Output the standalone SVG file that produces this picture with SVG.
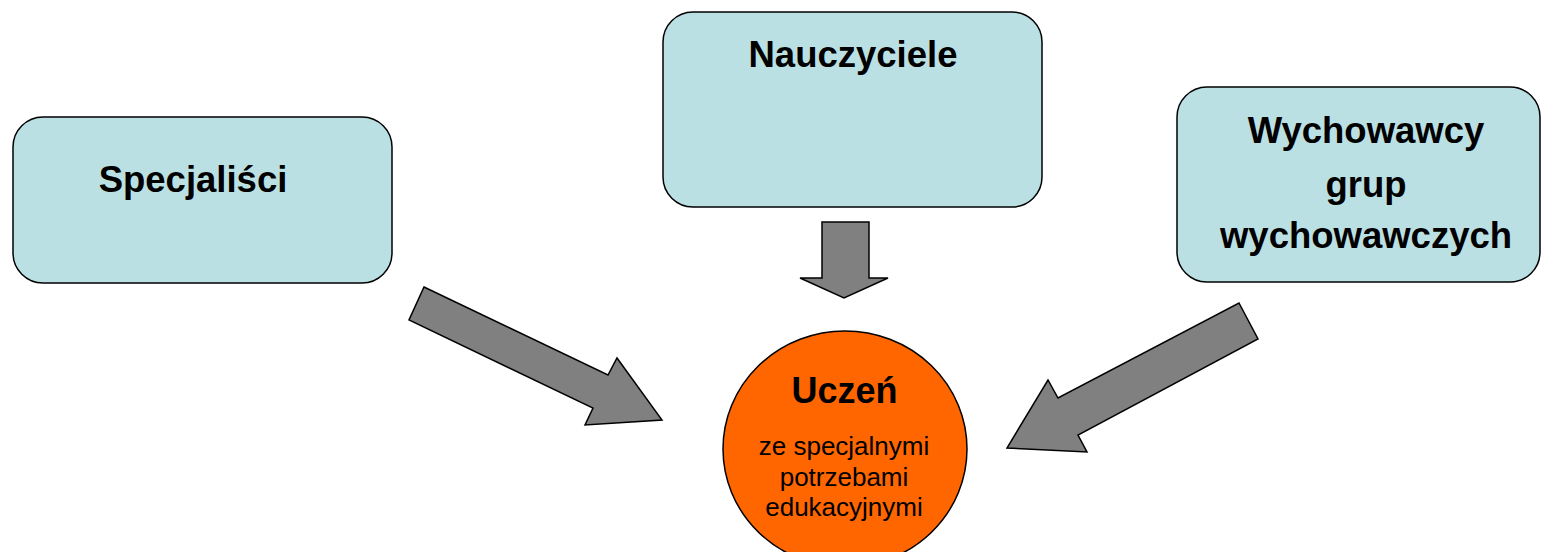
<svg xmlns="http://www.w3.org/2000/svg" width="1543" height="552" viewBox="0 0 1543 552">
<style>
.box{fill:#BBE0E3;stroke:#000;stroke-width:1.5}
.arrow{fill:#808080;stroke:#000;stroke-width:1.5;stroke-linejoin:miter}
.big{font-family:"Liberation Sans",Arial,sans-serif;font-weight:bold;font-size:36.5px;fill:#000;text-anchor:middle}
.small{font-family:"Liberation Sans",Arial,sans-serif;font-size:26px;fill:#000;text-anchor:middle}
</style>
<rect width="1543" height="552" fill="#fff"/>
<g id="connectors">
<polygon class="arrow" points="424,287 608,375 617,358 662,420 585,425 593,408 409,320"/>
<polygon class="arrow" points="822,222 869,222 869,278 888,278 844,298 800,278 822,278"/>
<polygon class="arrow" points="1239,303 1258,339 1078,435 1087,452 1007,448 1048,380 1058,398"/>
</g>
<g id="specjalisci">
<rect class="box" x="13" y="117" width="379" height="166" rx="30" ry="30"/>
<text class="big" x="193" y="192">Specjaliści</text>
</g>
<g id="nauczyciele">
<rect class="box" x="663" y="12" width="379" height="195" rx="30" ry="30"/>
<text class="big" x="853" y="67">Nauczyciele</text>
</g>
<g id="wychowawcy">
<rect class="box" x="1177" y="87" width="363" height="195" rx="30" ry="30"/>
<text class="big" x="1366" y="143">Wychowawcy</text>
<text class="big" x="1366" y="197">grup</text>
<text class="big" x="1366" y="248">wychowawczych</text>
</g>
<g id="uczen">
<ellipse cx="845" cy="449" rx="122" ry="118" fill="#FF6600" stroke="#000" stroke-width="1.5"/>
<text class="big" x="844.5" y="403" style="font-size:36px">Uczeń</text>
<text class="small" x="844" y="455">ze specjalnymi</text>
<text class="small" x="844" y="485.5">potrzebami</text>
<text class="small" x="844" y="516">edukacyjnymi</text>
</g>
</svg>
